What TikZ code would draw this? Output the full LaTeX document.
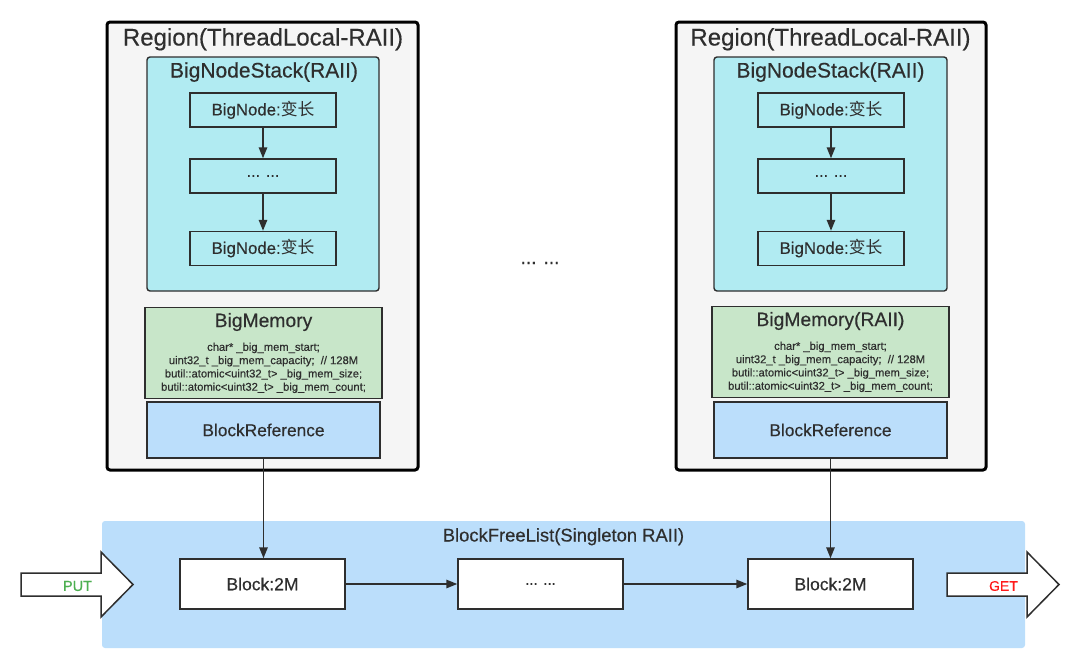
\documentclass[tikz,border=0pt]{standalone}
\usepackage{fontspec}
\setmainfont{Liberation Sans}[FakeBold=0.35]
\newfontfamily\cjk{Noto Sans CJK SC}
\usetikzlibrary{arrows.meta}
\definecolor{ink}{HTML}{2E2E2E}
\definecolor{regionfill}{HTML}{F5F5F5}
\definecolor{stackfill}{HTML}{B1EBF2}
\definecolor{memfill}{HTML}{C8E6C9}
\definecolor{reffill}{HTML}{BBDEFB}
\definecolor{putgreen}{HTML}{4CAF50}
\definecolor{getred}{HTML}{FF1A1A}
\tikzset{
  region/.style={draw=black, line width=3pt, fill=regionfill, rounded corners=3pt, inner sep=0pt},
  stackbox/.style={draw=ink, line width=1.4pt, fill=stackfill, rounded corners=3pt, inner sep=0pt},
  nodebox/.style={draw=ink, line width=1.5pt, fill=stackfill, inner sep=0pt, minimum width=146pt, minimum height=34pt, text=ink, font=\fontsize{16.8}{18}\selectfont},
  membox/.style={draw=ink, line width=1.4pt, fill=memfill, inner sep=0pt, minimum width=237pt, minimum height=91pt},
  refbox/.style={draw=ink, line width=1.4pt, fill=reffill, inner sep=0pt, minimum width=233pt, minimum height=56pt, text=ink, font=\fontsize{17.3}{19}\selectfont},
  blockbox/.style={draw=ink, line width=1.5pt, fill=white, inner sep=0pt, minimum width=165pt, minimum height=50pt, text=ink, font=\fontsize{17.5}{19}\selectfont},
  link/.style={draw=ink, line width=1.5pt, -{Triangle[length=11pt,width=8.5pt]}},
  bigarrow/.style={draw=ink, line width=1.5pt, fill=white, line join=miter},
  titletext/.style={anchor=base, text=ink, inner sep=0pt, font=\fontsize{24}{26}\selectfont},
  stacktext/.style={anchor=base, text=ink, inner sep=0pt, font=\fontsize{21}{23}\selectfont},
  memtitle/.style={anchor=base, text=ink, inner sep=0pt, font=\fontsize{19.3}{21}\selectfont},
  codetext/.style={anchor=north, text=ink, inner sep=0pt, align=center, font=\fontsize{11.2}{13.3}\selectfont},
}
\begin{document}
\begin{tikzpicture}[x=1pt, y=-1pt]
\useasboundingbox (0,0) rectangle (1080,670);

% ---------- left region ----------
\node[region, minimum width=311pt, minimum height=448pt] (rL) at (262.5,246) {};
\node[titletext] (rLt) at (263,45.5) {Region(ThreadLocal-RAII)};
\node[stackbox, minimum width=232pt, minimum height=234pt] (sL) at (263,174) {};
\node[stacktext] (sLt) at (264,77.5) {BigNodeStack(RAII)};
\node[nodebox] (nL1) at (263,110) {BigNode:{\cjk 变长}};
\node[nodebox, font=\fontsize{16}{18}\selectfont] (nL2) at (263,176) {... ...};
\node[nodebox] (nL3) at (263,248.5) {BigNode:{\cjk 变长}};
\draw[link] (nL1) -- (nL2);
\draw[link] (nL2) -- (nL3);
\node[membox] (mL) at (263.5,353) {};
\node[memtitle] (mLt) at (263.5,327) {BigMemory};
\node[codetext] (mLc) at (263.5,342.5) {char* \_big\_mem\_start;\\uint32\_t \_big\_mem\_capacity;~~// 128M\\butil::atomic<uint32\_t> \_big\_mem\_size;\\butil::atomic<uint32\_t> \_big\_mem\_count;};
\node[refbox] (bL) at (263.5,430) {BlockReference};

% ---------- right region ----------
\node[region, minimum width=310pt, minimum height=448pt] (rR) at (831,246) {};
\node[titletext] (rRt) at (830.5,45.5) {Region(ThreadLocal-RAII)};
\node[stackbox, minimum width=233pt, minimum height=234pt] (sR) at (830.5,174) {};
\node[stacktext] (sRt) at (830.5,77.5) {BigNodeStack(RAII)};
\node[nodebox] (nR1) at (831,110) {BigNode:{\cjk 变长}};
\node[nodebox, font=\fontsize{16}{18}\selectfont] (nR2) at (831,176) {... ...};
\node[nodebox] (nR3) at (831,248.5) {BigNode:{\cjk 变长}};
\draw[link] (nR1) -- (nR2);
\draw[link] (nR2) -- (nR3);
\node[membox] (mR) at (830.5,352) {};
\node[memtitle] (mRt) at (830.5,326) {BigMemory(RAII)};
\node[codetext] (mRc) at (830.5,341.5) {char* \_big\_mem\_start;\\uint32\_t \_big\_mem\_capacity;~~// 128M\\butil::atomic<uint32\_t> \_big\_mem\_size;\\butil::atomic<uint32\_t> \_big\_mem\_count;};
\node[refbox] (bR) at (830.5,430) {BlockReference};

% ---------- middle dots ----------
\node[text=ink, font=\fontsize{19}{21}\selectfont] (dots) at (540,263) {... ...};

% ---------- free list ----------
\node[fill=reffill, rounded corners=3pt, inner sep=0pt, minimum width=923pt, minimum height=127pt] (band) at (563.5,584.5) {};
\node[anchor=base, text=ink, inner sep=0pt, font=\fontsize{18.4}{20}\selectfont] (bandt) at (563.5,541.5) {BlockFreeList(Singleton RAII)};
\node[blockbox] (k1) at (262.5,584) {Block:2M};
\node[blockbox, font=\fontsize{15}{17}\selectfont] (k2) at (540.5,584) {... ...};
\node[blockbox] (k3) at (830.5,584) {Block:2M};
\draw[link] (k1) -- (k2);
\draw[link] (k2) -- (k3);
\draw[link] (bL.south) -- (bL.south |- k1.north);
\draw[link] (bR.south) -- (bR.south |- k3.north);

% ---------- PUT / GET ----------
\draw[bigarrow] (21,573) -- (101,573) -- (101,552) -- (133,584.5) -- (101,617) -- (101,596) -- (21,596) -- cycle;
\node[text=putgreen, font=\fontsize{14.5}{16}\selectfont] (put) at (77.5,586) {PUT};
\draw[bigarrow] (947,573) -- (1027,573) -- (1027,552) -- (1059,584.5) -- (1027,617) -- (1027,596) -- (947,596) -- cycle;
\node[text=getred, font=\fontsize{14}{16}\selectfont] (get) at (1003.5,586) {GET};
\end{tikzpicture}
\end{document}
